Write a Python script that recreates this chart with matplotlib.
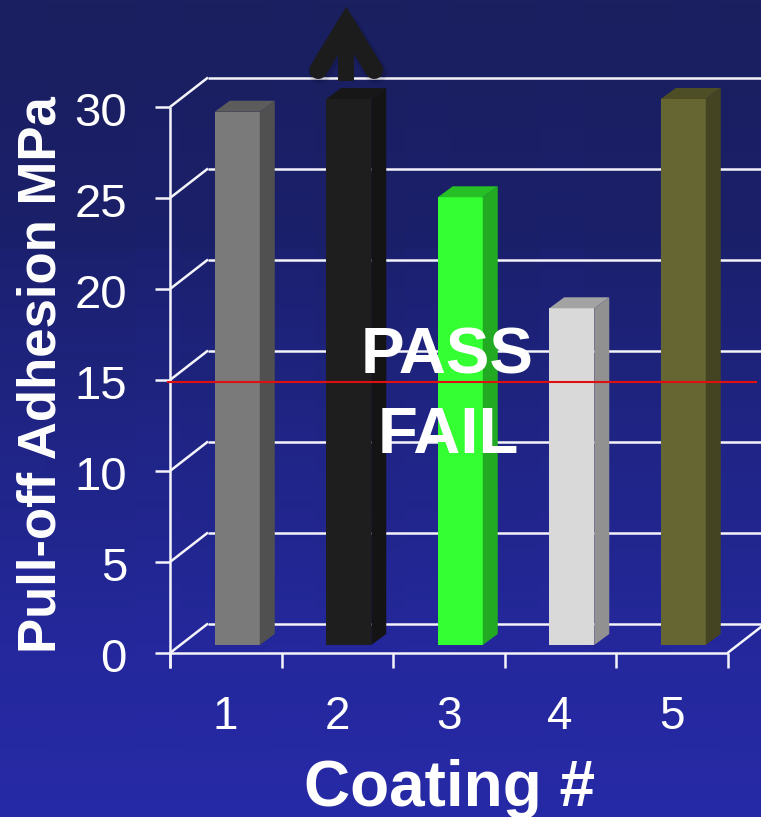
import numpy as np
import matplotlib.pyplot as plt
from matplotlib.colors import LinearSegmentedColormap
from matplotlib.lines import Line2D
from matplotlib.patches import Polygon

plt.rcParams['font.family'] = ['Liberation Sans', 'DejaVu Sans']

coatings = ['1', '2', '3', '4', '5']
adhesion = [29.3, 30, 24.6, 18.5, 30]
y_ticks = [0, 5, 10, 15, 20, 25, 30]
pass_limit = 14.9

front_colors = ['#7a7a7a', '#1e1e1e', '#33ff33', '#d9d9d9', '#666633']
side_colors = ['#505050', '#141414', '#22aa22', '#919191', '#444422']
top_colors = ['#5c5c5c', '#171717', '#26c026', '#a3a3a3', '#4d4d26']

W, H = 761, 817
px_x = 111.5   # pixels per category
px_y = 18.2    # pixels per MPa
x0, y0 = 170, 653  # pixel position of the axes origin


def dx(px):
    return px / px_x


def dy(px):
    return px / px_y


fig = plt.figure(figsize=(W / 100, H / 100), dpi=100)

# background gradient with a faint woven block pattern
bg = fig.add_axes([0, 0, 1, 1])
bg.axis('off')
cmap = LinearSegmentedColormap.from_list(
    'bg', [(0, '#1b2060'), (0.25, '#1a1f68'), (0.5, '#1f2482'), (0.8, '#24289c'), (1, '#272aa6')])
rows, cols = np.mgrid[0:H, 0:W]
weave = 0.012 * ((cols // 45) % 3 == 0) - 0.012 * ((rows // 50) % 3 == 1)
weave = weave * (1 - rows / H)
bg.imshow(np.clip(rows / H + weave * 3, 0, 1), aspect='auto', cmap=cmap, vmin=0, vmax=1)

ax = fig.add_axes([0, 0, 1, 1])
ax.patch.set_alpha(0)
ax.axis('off')
ax.set_xlim(0.5 - x0 / px_x, 0.5 + (W - x0) / px_x)
ax.set_ylim(-(H - y0) / px_y, y0 / px_y)

# wall and floor grid
depth_x, depth_y = dx(38), dy(29.5)
grid = dict(color='#f4f4fa', lw=1.8, solid_capstyle='butt', zorder=1)
x_left = 0.5
x_far = 5.5 + depth_x * 2
for v in y_ticks:
    ax.plot([x_left, x_left + depth_x], [v, v + depth_y], **grid)
    ax.plot([x_left + depth_x, x_far], [v + depth_y, v + depth_y], **grid)
    ax.plot([x_left - dx(15), x_left], [v, v], **grid)

# front edge of the floor, y axis and category ticks
ax.plot([0.5, 5.5], [0, 0], **grid)
ax.plot([5.5, 5.5 + depth_x], [0, depth_y], **grid)
ax.plot([0.5, 0.5], [-dy(15), 30], **grid)
for i in range(len(coatings) + 1):
    ax.plot([0.5 + i, 0.5 + i], [-dy(15), 0], **grid)

# bars sit part way into the floor
bar_w = dx(45)
off_x, off_y = dx(11.5), dy(8)
side_x, side_y = dx(15), dy(11)
xs = np.arange(1, len(coatings) + 1) + off_x
ax.bar(xs, adhesion, width=bar_w, bottom=off_y, color=front_colors, linewidth=0, zorder=3)
for x, v, sc, tc in zip(xs, adhesion, side_colors, top_colors):
    l, r = x - bar_w / 2, x + bar_w / 2
    t = v + off_y
    ax.add_patch(Polygon([(r, off_y), (r + side_x, off_y + side_y), (r + side_x, t + side_y), (r, t)],
                         closed=True, fc=sc, ec='none', zorder=3))
    ax.add_patch(Polygon([(l, t), (l + side_x, t + side_y), (r + side_x, t + side_y), (r, t)],
                         closed=True, fc=tc, ec='none', zorder=3))

# off-scale arrow above coating 2, with a soft shadow underneath
arrow_x = xs[1] - dx(2.5)
head_x = [arrow_x - dx(28), arrow_x, arrow_x + dx(28)]
head_y = [30 + dy(37), 30 + dy(83), 30 + dy(37)]
shaft_y = [30 + dy(26), 30 + dy(70)]
for grow, alpha in [(4, 0.06), (2, 0.08)]:
    ax.add_line(Line2D([p + dx(1.5) for p in head_x], [p - dy(2.5) for p in head_y], color='black',
                       lw=13 + grow, alpha=alpha, solid_capstyle='round', solid_joinstyle='round', zorder=3.5))
ax.plot([arrow_x, arrow_x], shaft_y, color='#1c1c1c', lw=11.5, solid_capstyle='butt', zorder=4)
ax.add_line(Line2D(head_x, head_y, color='#1c1c1c', lw=13,
                   solid_capstyle='round', solid_joinstyle='miter', zorder=4))

# pass / fail threshold
ax.plot([0.5 - dx(2), 0.5 + dx(586)], [pass_limit, pass_limit], color='#e01010', lw=1.5, zorder=5)
ax.text(0.5 + dx(277.5), dy(653 - 374), 'PASS', color='white', fontsize=47, fontweight='bold',
        ha='center', va='baseline', zorder=6)
ax.text(0.5 + dx(278), dy(653 - 453), 'FAIL', color='white', fontsize=47, fontweight='bold',
        ha='center', va='baseline', zorder=6)

# tick labels and axis titles
for v in y_ticks:
    ax.text(0.5 - dx(43), v - dy(19), str(v), color='white', fontsize=34, ha='right', va='baseline')
for i, c in enumerate(coatings):
    ax.text(i + 1, -dy(76), c, color='white', fontsize=33, ha='center', va='baseline')
ax.text(0.5 + dx(279.5), -dy(153), 'Coating #', color='white', fontsize=46, fontweight='bold',
        ha='center', va='baseline')
ax.text(0.5 - dx(128.5), dy(278), 'Pull-off Adhesion MPa', color='white', fontsize=38, fontweight='bold',
        rotation=90, ha='center', va='center')

fig.savefig('out.png', dpi=100)
